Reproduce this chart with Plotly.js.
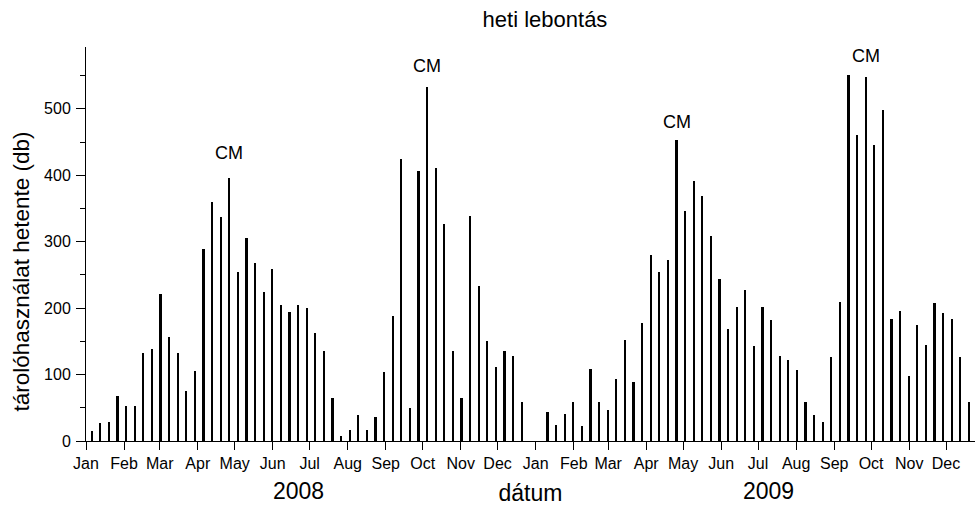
<!DOCTYPE html>
<html>
<head>
<meta charset="utf-8">
<script src="https://cdn.plot.ly/plotly-3.0.1.min.js"></script>
<style>
html,body{margin:0;padding:0;background:#fff;}
#chart{width:975px;height:506px;}
</style>
</head>
<body>
<div id="chart"></div>
<script>
// weekly counts, first week ending around 2008-01-05; null = no data
var firstWeek = "2008-01-05T15:00:00";
var weeklyCounts = [
  15, 27, 28, 67, 52, 52, 133, 138, 221, 157, 133, 76, 105, 289, 359, 337, 396, 255, 305, 268,
  225, 259, 205, 194, 205, 200, 162, 135, 65, 8, 16, 39, 17, 36, 104, 188, 425, 50, 407, 533,
  411, 326, 135, 65, 338, 233, 151, 111, 136, 128, 58, null, null,
  43, 24, 41, 58, 23, 108, 58, 47, 93, 152, 89, 178, 280, 254, 273, 453, 346, 392, 368, 308,
  244, 169, 202, 227, 143, 201, 182, 128, 122, 107, 58, 39, 29, 126, 209, 551, 461, 548, 445, 498,
  183, 195, 98, 175, 145, 208, 192, 184, 126, 58
];
// "CM" labels: week index and label height (data units)
var cmWeek = [16, 39, 68, 90];
var cmLevel = [433, 565, 480, 580];
var yearLabels = ["2008", "2009"];

var DAY = 86400000;
var t0 = new Date(firstWeek + "Z").getTime();
function weekDate(i) { return new Date(t0 + i * 7 * DAY).toISOString().replace("Z", ""); }
var xDates = weeklyCounts.map(function (v, i) { return weekDate(i); });

var FONT = "Liberation Sans, Arial, Helvetica, sans-serif";

var annotations = [];
cmWeek.forEach(function (w, k) {
  annotations.push({
    x: weekDate(w), y: cmLevel[k], xref: "x", yref: "y",
    text: "CM", showarrow: false, xanchor: "center", yanchor: "middle",
    font: { family: FONT, size: 18, color: "#000" }
  });
});
var yearX = [0.239, 0.768];
yearLabels.forEach(function (t, k) {
  annotations.push({
    x: yearX[k], y: -0.127, xref: "paper", yref: "paper",
    text: t, showarrow: false, xanchor: "center", yanchor: "middle", borderpad: 0,
    font: { family: FONT, size: 23, color: "#000" }
  });
});
annotations.push({
  x: -0.072, y: 0.43, xref: "paper", yref: "paper", textangle: -90,
  text: "tárolóhasználat hetente (db)", showarrow: false, xanchor: "center", yanchor: "middle",
  font: { family: FONT, size: 22.5, color: "#000" }
});

var trace = {
  type: "bar",
  x: xDates,
  y: weeklyCounts,
  width: 1.65 * DAY,
  marker: { color: "#000", line: { width: 0 } },
  hoverinfo: "x+y"
};

var layout = {
  width: 975, height: 506,
  margin: { l: 86, r: 0, t: 47, b: 65, pad: 0 },
  paper_bgcolor: "#fff", plot_bgcolor: "#fff",
  showlegend: false,
  title: {
    text: "heti lebontás", x: 545 / 975, xanchor: "center", xref: "container",
    y: 1 - 19 / 506, yref: "container", yanchor: "middle",
    font: { family: FONT, size: 22, color: "#000" }
  },
  xaxis: {
    type: "date",
    range: ["2008-01-01", "2009-12-24T14:00:00"],
    dtick: "M1", tick0: "2008-01-01", tickformat: "%b",
    ticks: "outside", ticklen: 8, tickwidth: 1, tickcolor: "#000",
    showline: true, linecolor: "#000", linewidth: 1,
    showgrid: false, zeroline: false,
    tickfont: { family: FONT, size: 16, color: "#000" },
    title: { text: "dátum", standoff: 16, font: { family: FONT, size: 23, color: "#000" } }
  },
  yaxis: {
    range: [0, 593],
    dtick: 100, tick0: 0,
    ticks: "outside", ticklen: 9, tickwidth: 1, tickcolor: "#000",
    minor: { dtick: 50, ticks: "outside", ticklen: 5, tickwidth: 1, tickcolor: "#000", showgrid: false },
    showline: true, linecolor: "#000", linewidth: 1,
    showgrid: false, zeroline: false,
    ticklabelstandoff: 2,
    tickfont: { family: FONT, size: 16, color: "#000" }
  },
  annotations: annotations,
  bargap: 0,
  hovermode: false,
  dragmode: false
};

Plotly.newPlot("chart", [trace], layout, { displayModeBar: false, staticPlot: false });
</script>
</body>
</html>
